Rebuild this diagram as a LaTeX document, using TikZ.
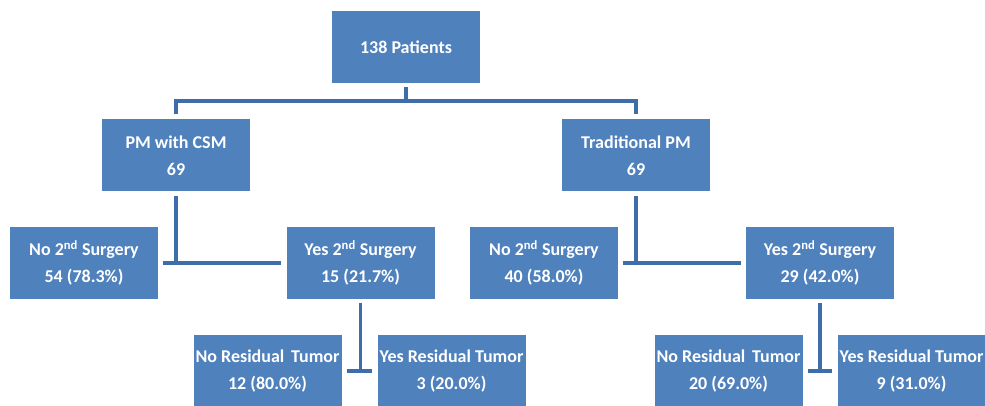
\documentclass[tikz,border=0pt]{standalone}
\usepackage{fontspec}
\setmainfont{Carlito}
\definecolor{boxblue}{HTML}{4F81BD}
\definecolor{lineblue}{HTML}{3E6EA9}
\tikzset{
  box/.style={fill=boxblue, draw=none, minimum width=148pt, minimum height=72pt, inner sep=0pt,
    text=white, align=center, font=\fontsize{18}{27}\selectfont\bfseries},
  conn/.style={draw=lineblue, line width=3.5pt, line join=miter}
}
\begin{document}
\begin{tikzpicture}[x=1pt,y=1pt]
\useasboundingbox (0,0) rectangle (985,406);
\clip (0,0) rectangle (985,406);
\node[box] (top)  at (406,359)   {138 Patients};
\node[box] (pmc)  at (176,250.5) {PM with CSM\\69};
\node[box] (trad) at (636,250.5) {Traditional PM\\69};
\node[box] (no1)  at (84,143)    {No 2\textsuperscript{nd} Surgery\\54 (78.3\%)};
\node[box] (yes1) at (360.5,143) {Yes 2\textsuperscript{nd} Surgery\\15 (21.7\%)};
\node[box] (no2)  at (544,143)   {No 2\textsuperscript{nd} Surgery\\40 (58.0\%)};
\node[box] (yes2) at (820,143)   {Yes 2\textsuperscript{nd} Surgery\\29 (42.0\%)};
\node[box] (nr1)  at (267.5,35)  {No Residual\hspace{0.15em} Tumor\\12 (80.0\%)};
\node[box] (yr1)  at (451.5,35)  {Yes Residual Tumor\\3 (20.0\%)};
\node[box] (nr2)  at (728.5,35)  {No Residual\hspace{0.15em} Tumor\\20 (69.0\%)};
\node[box] (yr2)  at (911.5,35)  {Yes Residual Tumor\\9 (31.0\%)};
% top split
\coordinate (tj) at ([yshift=-18]top.south);
\draw[conn] ([yshift=-4]top.south) -- (tj);
\draw[conn] ([yshift=5]pmc.north) |- (tj) -| ([yshift=5]trad.north);
% second level
\draw[conn] ([yshift=-4]pmc.south) -- (pmc.south |- no1.east);
\draw[conn] ([xshift=5]no1.east) -- ([xshift=-5]yes1.west);
\draw[conn] ([yshift=-4]trad.south) -- (trad.south |- no2.east);
\draw[conn] ([xshift=5]no2.east) -- ([xshift=-5]yes2.west);
% third level
\draw[conn] ([yshift=-4]yes1.south) -- (yes1.south |- nr1.east);
\draw[conn] ([xshift=5]nr1.east) -- ([xshift=-5]yr1.west);
\draw[conn] ([yshift=-4]yes2.south) -- (yes2.south |- nr2.east);
\draw[conn] ([xshift=5]nr2.east) -- ([xshift=-5]yr2.west);
\end{tikzpicture}
\end{document}
